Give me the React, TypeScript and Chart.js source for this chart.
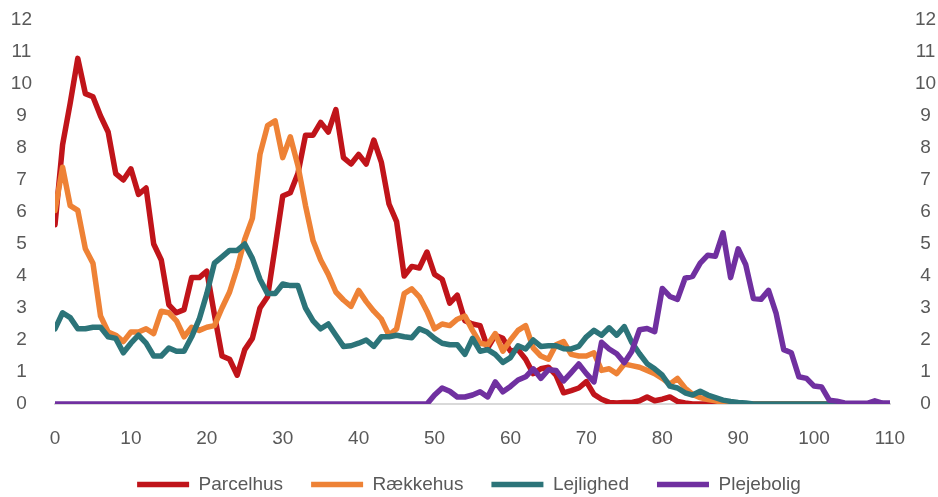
import React, { useEffect, useRef } from "react";
import { Chart, registerables } from "chart.js";

Chart.register(...registerables);

const AGES: number[] = Array.from({ length: 111 }, (_, i) => i);

const X_TICKS = [0, 10, 20, 30, 40, 50, 60, 70, 80, 90, 100, 110];
const Y_TICKS = [0, 1, 2, 3, 4, 5, 6, 7, 8, 9, 10, 11, 12];

const SERIES_NAMES = ["Parcelhus", "Rækkehus", "Lejlighed", "Plejebolig"];

const PARCELHUS = [
  5.6, 8.1, 9.4, 10.8, 9.7, 9.6, 9.0, 8.5, 7.2, 7.0,
  7.35, 6.55, 6.75, 5.0, 4.5, 3.1, 2.85, 2.95, 3.95, 3.95,
  4.15, 2.8, 1.5, 1.4, 0.9, 1.7, 2.05, 3.0, 3.35, 4.9,
  6.5, 6.6, 7.2, 8.4, 8.4, 8.8, 8.5, 9.2, 7.7, 7.5,
  7.8, 7.5, 8.25, 7.55, 6.25, 5.7, 4.0, 4.3, 4.25, 4.75,
  4.05, 3.9, 3.15, 3.4, 2.6, 2.5, 2.45, 1.75, 2.15, 2.05,
  1.65, 1.7, 1.4, 0.95, 1.1, 1.15, 0.9, 0.35, 0.42, 0.5,
  0.7, 0.3, 0.15, 0.05, 0.03, 0.05, 0.05, 0.1, 0.22, 0.1,
  0.15, 0.22, 0.08, 0.03, 0, 0, 0, 0, 0, 0,
  0, 0, 0, 0, 0, 0, 0, 0, 0, 0,
  0, 0, 0, 0, 0, 0, 0, 0, 0, 0,
  0,
];

const RAEKKEHUS = [
  6.05, 7.4, 6.2, 6.05, 4.85, 4.4, 2.75, 2.25, 2.15, 1.95,
  2.25, 2.25, 2.35, 2.2, 2.9, 2.85, 2.6, 2.1, 2.4, 2.3,
  2.4, 2.45, 3.0, 3.5, 4.25, 5.15, 5.8, 7.8, 8.7, 8.85,
  7.7, 8.35, 7.45, 6.2, 5.1, 4.5, 4.05, 3.5, 3.25, 3.05,
  3.55, 3.2, 2.9, 2.65, 2.15, 2.35, 3.45, 3.6, 3.35, 2.9,
  2.35, 2.5, 2.45, 2.65, 2.75, 2.3, 1.9, 1.85, 2.2, 1.65,
  2.0, 2.3, 2.45, 1.75, 1.5, 1.4, 1.85, 1.95, 1.55, 1.5,
  1.5, 1.6, 1.05, 1.1, 0.95, 1.25, 1.2, 1.15, 1.05, 0.95,
  0.8, 0.62, 0.8, 0.5, 0.3, 0.2, 0.14, 0.1, 0.05, 0.02,
  0, 0, 0, 0, 0, 0, 0, 0, 0, 0,
  0, 0, 0, 0, 0, 0, 0, 0, 0, 0,
  0,
];

const LEJLIGHED = [
  2.35, 2.85, 2.7, 2.35, 2.35, 2.4, 2.4, 2.1, 2.05, 1.6,
  1.9, 2.15, 1.9, 1.5, 1.5, 1.75, 1.65, 1.65, 2.1, 2.65,
  3.45, 4.4, 4.6, 4.8, 4.8, 5.0, 4.55, 3.9, 3.45, 3.45,
  3.75, 3.7, 3.7, 3.0, 2.6, 2.35, 2.5, 2.15, 1.8, 1.82,
  1.9, 2.0, 1.8, 2.1, 2.1, 2.15, 2.1, 2.07, 2.35, 2.25,
  2.05, 1.9, 1.85, 1.85, 1.55, 2.05, 1.65, 1.7, 1.55, 1.3,
  1.45, 1.82, 1.72, 2.0, 1.8, 1.82, 1.82, 1.73, 1.72, 1.8,
  2.1, 2.3, 2.15, 2.38, 2.15, 2.42, 1.92, 1.57, 1.26, 1.1,
  0.9, 0.56, 0.5, 0.35, 0.28, 0.4, 0.28, 0.2, 0.12, 0.08,
  0.05, 0.03, 0, 0, 0, 0, 0, 0, 0, 0,
  0, 0, 0, 0, 0, 0, 0, 0, 0, 0,
  0,
];

const PLEJEBOLIG = [
  0, 0, 0, 0, 0, 0, 0, 0, 0, 0,
  0, 0, 0, 0, 0, 0, 0, 0, 0, 0,
  0, 0, 0, 0, 0, 0, 0, 0, 0, 0,
  0, 0, 0, 0, 0, 0, 0, 0, 0, 0,
  0, 0, 0, 0, 0, 0, 0, 0, 0, 0,
  0.28, 0.5, 0.4, 0.22, 0.22, 0.28, 0.38, 0.22, 0.69, 0.38,
  0.55, 0.75, 0.85, 1.1, 0.8, 1.07, 1.05, 0.72, 0.98, 1.25,
  0.95, 0.69, 1.93, 1.72, 1.57, 1.29, 1.65, 2.32, 2.36, 2.26,
  3.61, 3.36, 3.27, 3.93, 3.99, 4.4, 4.65, 4.62, 5.35, 3.95,
  4.85, 4.35, 3.3, 3.27, 3.55, 2.83, 1.7, 1.6, 0.85, 0.8,
  0.56, 0.53, 0.12, 0.09, 0.03, 0.02, 0.02, 0.02, 0.1, 0.03,
  0.03,
];

const SERIES_VALUES = [PARCELHUS, RAEKKEHUS, LEJLIGHED, PLEJEBOLIG];
const COLORS = ["#C0141A", "#EE8236", "#2C7479", "#7030A0"];

const FONT = "'Liberation Sans', Arial, sans-serif";
const TEXT_COLOR = "#595959";

export default function App() {
  const canvasRef = useRef<HTMLCanvasElement | null>(null);

  useEffect(() => {
    document.body.style.margin = "0";
    const canvas = canvasRef.current;
    if (!canvas) return;

    const datasets = SERIES_NAMES.map((name, i) => ({
      label: name,
      data: SERIES_VALUES[i].map((v, j) => ({ x: AGES[j], y: v })),
      borderColor: COLORS[i],
      backgroundColor: COLORS[i],
      borderWidth: 5.5,
      borderCapStyle: "round" as const,
      borderJoinStyle: "round" as const,
      pointRadius: 0,
      pointHoverRadius: 0,
      tension: 0,
      fill: false,
      order: SERIES_NAMES.length - 1 - i,
    }));

    const yTickCommon = {
      min: 0,
      max: 12,
      afterBuildTicks: (scale: any) => {
        scale.ticks = Y_TICKS.map((v) => ({ value: v }));
      },
    };

    const chart = new Chart(canvas, {
      type: "line",
      data: { datasets },
      options: {
        responsive: false,
        animation: false,
        events: [],
        layout: { padding: { top: 20, left: 0, right: 0, bottom: 0 } },
        scales: {
          x: {
            type: "linear",
            min: 0,
            max: 110,
            afterBuildTicks: (scale: any) => {
              scale.ticks = X_TICKS.map((v) => ({ value: v }));
            },
            afterFit: (scale: any) => {
              scale.height = 43;
              scale.paddingLeft = 0;
              scale.paddingRight = 0;
            },
            grid: { display: false, drawTicks: false },
            border: { display: true, color: "#D9D9D9", width: 2 },
            ticks: {
              padding: 23,
              maxRotation: 0,
              autoSkip: false,
              color: TEXT_COLOR,
              font: { family: FONT, size: 19 },
            },
          },
          y: {
            type: "linear",
            position: "left",
            ...yTickCommon,
            afterFit: (scale: any) => {
              scale.width = 55;
              scale.paddingTop = 0;
              scale.paddingBottom = 0;
            },
            grid: { display: false, drawTicks: false },
            border: { display: false },
            ticks: {
              padding: 23,
              crossAlign: "center",
              color: TEXT_COLOR,
              font: { family: FONT, size: 19 },
            },
          },
          y2: {
            type: "linear",
            position: "right",
            ...yTickCommon,
            afterFit: (scale: any) => {
              scale.width = 48;
              scale.paddingTop = 0;
              scale.paddingBottom = 0;
            },
            grid: { display: false, drawTicks: false },
            border: { display: false },
            ticks: {
              padding: 25,
              crossAlign: "center",
              color: TEXT_COLOR,
              font: { family: FONT, size: 19 },
            },
          },
        },
        plugins: {
          tooltip: { enabled: false },
          title: { display: false },
          legend: {
            display: true,
            position: "bottom",
            maxHeight: 50,
            labels: {
              usePointStyle: true,
              pointStyle: "line",
              pointStyleWidth: 52,
              padding: 28,
              color: TEXT_COLOR,
              font: { family: FONT, size: 19 },
              sort: (a: any, b: any) => a.datasetIndex - b.datasetIndex,
            },
          },
        },
      },
    } as any);

    return () => {
      chart.destroy();
    };
  }, []);

  return (
    <div style={{ width: 938, height: 497, position: "relative" }}>
      <canvas ref={canvasRef} width={938} height={497} />
    </div>
  );
}
